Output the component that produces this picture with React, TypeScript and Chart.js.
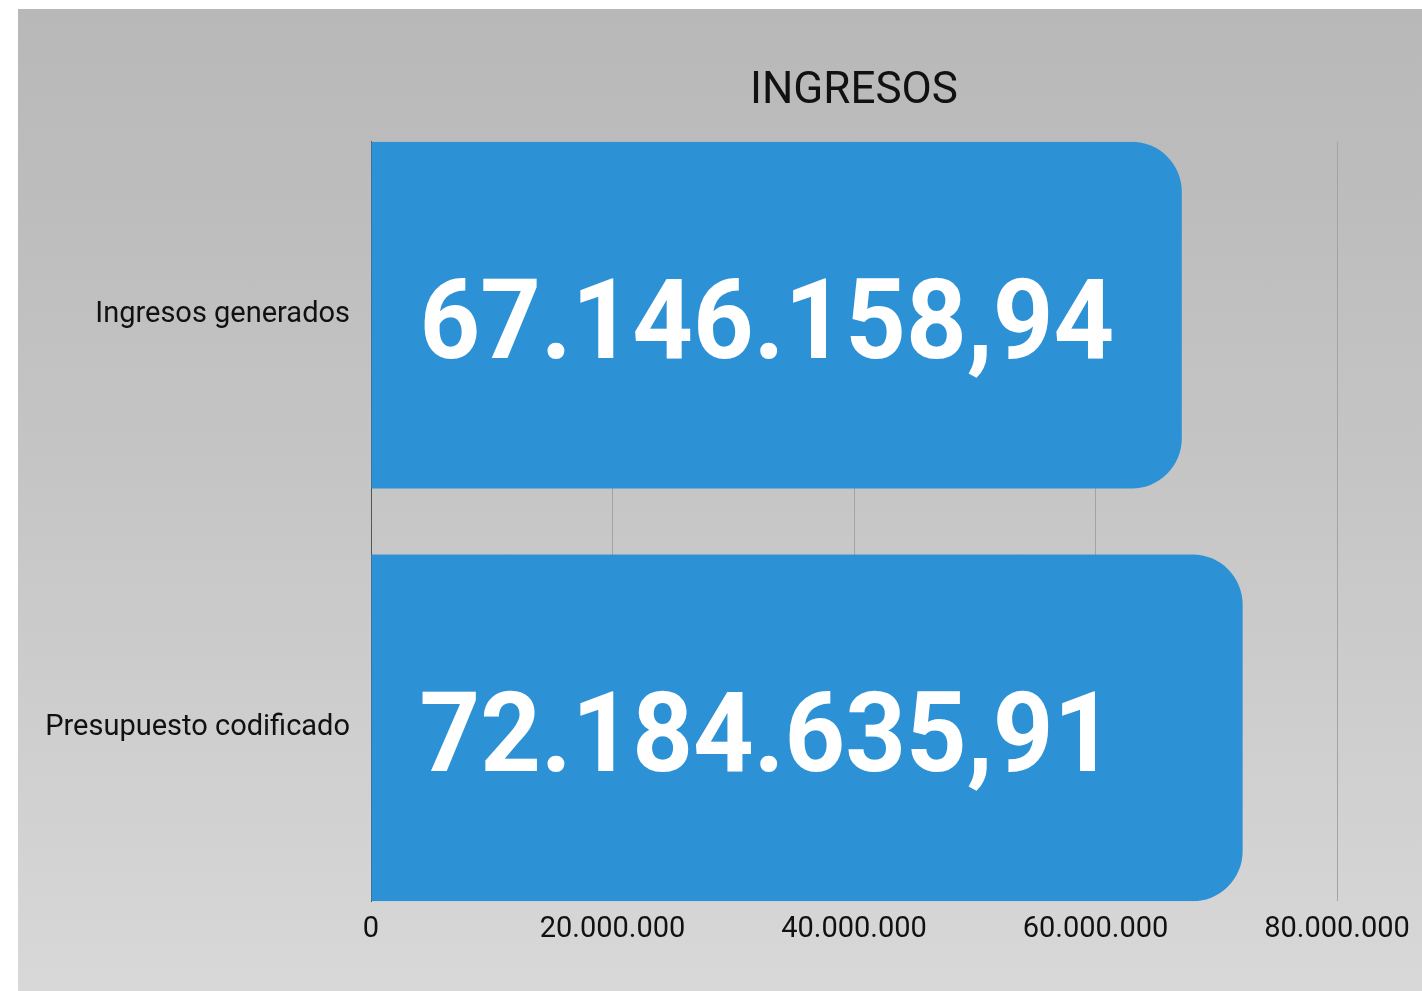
import React, { useEffect, useRef } from 'react';
import { Chart, registerables } from 'chart.js';

Chart.register(...registerables);

const title = 'INGRESOS';
const categories = ['Ingresos generados', 'Presupuesto codificado'];
const values = [67146158.94, 72184635.91];
const xTickValues = [0, 20000000, 40000000, 60000000, 80000000];

function groupDigits(intStr: string): string {
  let out = '';
  for (let i = 0; i < intStr.length; i++) {
    const fromEnd = intStr.length - i;
    out += intStr[i];
    if (fromEnd > 1 && (fromEnd - 1) % 3 === 0) out += '.';
  }
  return out;
}

function formatNumber(n: number, decimals: number): string {
  const fixed = Math.abs(n).toFixed(decimals);
  const [intPart, decPart] = fixed.split('.');
  const sign = n < 0 ? '-' : '';
  return sign + groupDigits(intPart) + (decPart ? ',' + decPart : '');
}

const FONT = 'Roboto, "Noto Sans", sans-serif';

const valueLabelPlugin = {
  id: 'valueLabels',
  afterDatasetsDraw(chart: any) {
    const ctx = chart.ctx;
    const meta = chart.getDatasetMeta(0);
    meta.data.forEach((bar: any, i: number) => {
      const { y, base } = bar.getProps(['y', 'base'], true);
      const text = formatNumber(values[i], 2);
      ctx.save();
      ctx.font = `bold 112px ${FONT}`;
      ctx.fillStyle = '#ffffff';
      ctx.textBaseline = 'middle';
      ctx.textAlign = 'left';
      ctx.translate(base + 48, y + 15);
      ctx.scale(0.945, 1);
      ctx.fillText(text, 0, 0);
      ctx.restore();
    });
  },
};

export default function App() {
  const canvasRef = useRef<HTMLCanvasElement | null>(null);

  useEffect(() => {
    if (!canvasRef.current) return;
    const chart = new Chart(canvasRef.current, {
      type: 'bar',
      data: {
        datasets: [
          {
            data: values.map((v, i) => ({ x: v, y: i })),
            backgroundColor: '#2d91d6',
            borderWidth: 0,
            borderRadius: 50,
            borderSkipped: 'start',
            barPercentage: 0.84,
            categoryPercentage: 1,
          },
        ],
      },
      plugins: [valueLabelPlugin],
      options: {
        indexAxis: 'y',
        animation: false,
        responsive: true,
        maintainAspectRatio: false,
        layout: { padding: { left: 0, right: 85, top: 0, bottom: 33 } },
        plugins: {
          legend: { display: false },
          tooltip: { enabled: false },
          title: {
            display: true,
            text: title,
            fullSize: false,
            color: '#111111',
            font: { family: FONT, size: 44, weight: 'normal' },
            padding: { top: 57, bottom: 23 },
          },
        },
        scales: {
          x: {
            type: 'linear',
            min: 0,
            max: 80000000,
            afterBuildTicks: (scale: any) => {
              scale.ticks = xTickValues.map((v) => ({ value: v }));
            },
            grid: { color: '#a3a3a3', lineWidth: 1, drawTicks: false },
            border: { display: false },
            ticks: {
              color: '#111111',
              padding: 11,
              font: { family: FONT, size: 29 },
              maxRotation: 0,
              callback: (v: any) => formatNumber(Number(v), 0),
            },
          },
          y: {
            type: 'linear',
            offset: false,
            reverse: true,
            min: -0.42,
            max: 1.42,
            afterBuildTicks: (scale: any) => {
              scale.ticks = categories.map((_, i) => ({ value: i }));
            },
            afterFit: (scale: any) => {
              scale.width = 353;
            },
            grid: { display: false, drawTicks: false, offset: false },
            border: { display: true, color: '#555555', width: 1 },
            ticks: {
              color: '#111111',
              padding: 21,
              font: { family: FONT, size: 29 },
              callback: (v: any) => categories[Number(v)] ?? '',
            },
          },
        },
      },
    } as any);
    return () => chart.destroy();
  }, []);

  return (
    <div
      style={{
        position: 'absolute',
        left: 18,
        top: 9,
        width: 1404,
        height: 982,
        background: 'linear-gradient(to bottom, #b8b8b8 0%, #bdbdbd 20%, #c6c6c6 50%, #cfcfcf 75%, #d8d8d8 100%)',
      }}
    >
      <canvas ref={canvasRef} />
    </div>
  );
}
